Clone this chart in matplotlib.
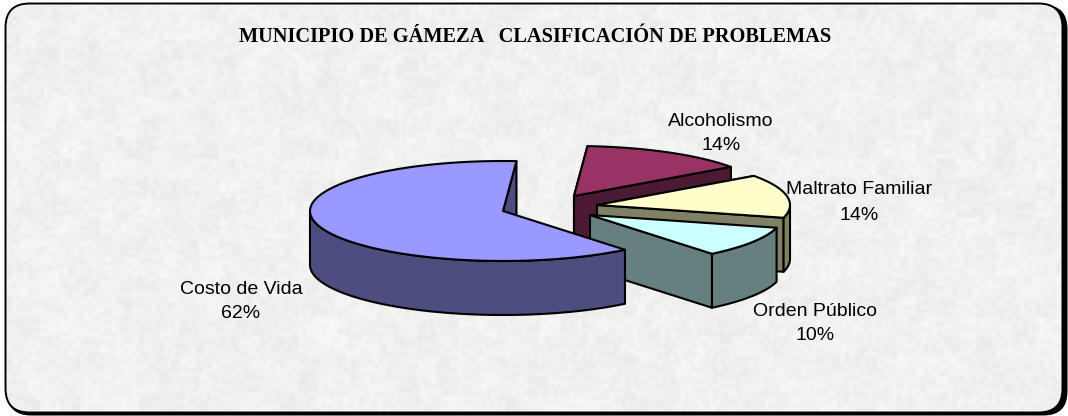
"""
Municipio de Gameza - clasificacion de problemas (fake 3D pie)
"""
import numpy as np
import matplotlib
matplotlib.use("Agg")
import matplotlib.pyplot as plt
from matplotlib.patches import FancyBboxPatch, Polygon

# %%
# data
CATEGORIES = ["Alcoholismo", "Maltrato Familiar", "Orden Público", "Costo de Vida"]
PERCENTS = [14, 14, 10, 62]
TITLE = "MUNICIPIO DE GÁMEZA   CLASIFICACIÓN DE PROBLEMAS"

# %%
# style, in pixels of the 1068x416 picture
W, H = 1068, 416
RX, RY = 193, 50  # pie ellipse
DEPTH = 54
START_DEG = 4.0
APEX = [(574, 196), (597, 205), (590, 215), (503, 211)]
TOP_COLORS = ["#993366", "#FFFFCC", "#CCFFFF", "#9999FF"]
SIDE_COLORS = ["#4D1A33", "#808066", "#668080", "#4D4D80"]
LABEL_POS = [(721, 121), (859, 190), (815, 311), (241, 289)]
LABEL_SIZE = 14.0


def rim_point(apex, deg):
    rad = np.radians(deg)
    return apex[0] + RX * np.sin(rad), apex[1] - RY * np.cos(rad)


def arc(apex, d0, d1):
    degs = np.linspace(d0, d1, 80)
    return np.column_stack([apex[0] + RX * np.sin(np.radians(degs)),
                            apex[1] - RY * np.cos(np.radians(degs))])


def hash_grid(ny, nx, a, b, c):
    # marble like tile, no random module, only a hash
    yy, xx = np.mgrid[0:ny, 0:nx]
    n = np.sin(xx * a + yy * b) * c
    return n - np.floor(n)


def make_texture():
    ny, nx = H // 4 + 1, W // 4 + 1
    fine = hash_grid(ny, nx, 12.9898, 78.233, 43758.5453)
    blocks = hash_grid(ny // 5 + 1, nx // 5 + 1, 4.1414, 23.17, 24634.6345)
    blocks = np.repeat(np.repeat(blocks, 5, axis=0), 5, axis=1)[:ny, :nx]
    gray = 242 + 11 * (fine - 0.55) + 6 * (blocks - 0.5)
    return np.clip(np.dstack([gray, gray + 1, gray - 2]), 0, 255).astype(np.uint8)


# %%
fig = plt.figure(figsize=(W / 100, H / 100), dpi=100)
ax = fig.add_axes([0, 0, 1, 1])
ax.set_xlim(0, W)
ax.set_ylim(H, 0)
ax.axis("off")

box_style = "round,pad=0,rounding_size=24"
shadow = FancyBboxPatch((7, 5), 1060.5, 410.5, boxstyle=box_style, fc="black", ec="none", zorder=1)
ax.add_patch(shadow)
img = ax.imshow(make_texture(), extent=(0, W, H, 0), interpolation="bilinear",
                aspect="auto", zorder=2)
bg_clip = FancyBboxPatch((5.5, 3.5), 1057, 409, boxstyle=box_style, transform=ax.transData)
img.set_clip_path(bg_clip)
panel = FancyBboxPatch((5.5, 3.5), 1057, 409, boxstyle=box_style, fc="none", ec="black", lw=1.4, zorder=3)
ax.add_patch(panel)
ax.set_xlim(0, W)
ax.set_ylim(H, 0)

# %%
# slices, clockwise from the start angle
spans = np.array(PERCENTS) / sum(PERCENTS) * 360
ends = START_DEG + np.cumsum(spans)
starts = ends - spans
edge = dict(ec="black", lw=1.5, joinstyle="round", zorder=5)

for i in range(len(PERCENTS)):
    apex = APEX[i]
    d0, d1 = starts[i], ends[i]
    side = SIDE_COLORS[i]
    faces = []
    # cut faces seen from the front
    for d in (d0, d1):
        deg = d % 360
        if (d == d1 and deg < 180) or (d == d0 and deg < 90):
            px, py = rim_point(apex, d)
            faces.append([apex, (px, py), (px, py + DEPTH), (apex[0], apex[1] + DEPTH)])
    for f in faces:
        ax.add_patch(Polygon(f, closed=True, fc=side, **edge))
    # outer wall, only the part in the lower half of the ellipse
    lo, hi = max(d0, 90), min(d1, 270)
    if hi > lo:
        top_arc = arc(apex, lo, hi)
        low_arc = top_arc[::-1] + [0, DEPTH]
        ax.add_patch(Polygon(np.vstack([top_arc, low_arc]), closed=True, fc=side, **edge))
    top = np.vstack([[apex], arc(apex, d0, d1)])
    ax.add_patch(Polygon(top, closed=True, fc=TOP_COLORS[i], **edge))
    # keep drawing order by slice
    edge["zorder"] += 1

# %%
for name, pct, (lx, ly) in zip(CATEGORIES, PERCENTS, LABEL_POS):
    ax.text(lx, ly, name, ha="center", va="center", fontsize=LABEL_SIZE,
            family="Liberation Sans", color="black", zorder=20)
    ax.text(lx, ly + 25, f"{pct}%", ha="center", va="center", fontsize=LABEL_SIZE,
            family="Liberation Sans", color="black", zorder=20)

ax.text(535, 37, TITLE, ha="center", va="center", fontsize=14.7, weight="bold",
        family="Liberation Serif", color="black", zorder=20)

fig.savefig("out.png", dpi=100)
